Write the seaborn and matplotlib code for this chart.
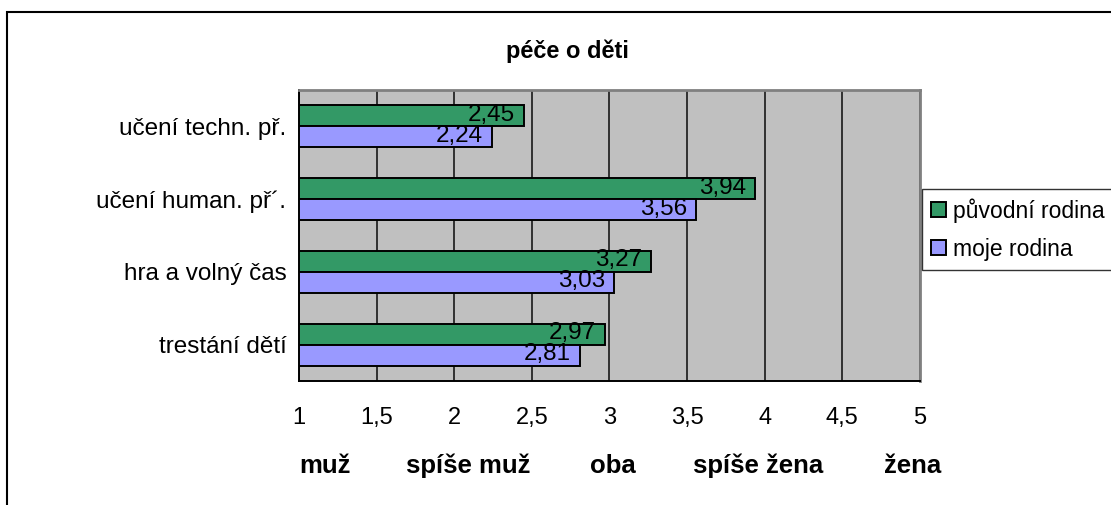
import matplotlib
matplotlib.use("Agg")
import matplotlib.pyplot as plt
import matplotlib.transforms as mtransforms
from matplotlib.patches import Rectangle
import pandas as pd
import seaborn as sns

# data
categories = ["učení techn. př.", "učení human. př´.", "hra a volný čas", "trestání dětí"]
series_names = ["původní rodina", "moje rodina"]
puvodni_rodina = [2.45, 3.94, 3.27, 2.97]
moje_rodina = [2.24, 3.56, 3.03, 2.81]
x_ticks = [1, 1.5, 2, 2.5, 3, 3.5, 4, 4.5, 5]
scale_labels = ["muž", "spíše muž", "oba", "spíše žena", "žena"]
scale_pos = [1.0, 2.09, 3.02, 3.96, 4.95]

df = pd.DataFrame({
    "kategorie": categories * 2,
    "hodnota": puvodni_rodina + moje_rodina,
    "rodina": [series_names[0]] * 4 + [series_names[1]] * 4,
})

sns.set_style("white")
plt.rcParams["font.family"] = ["Liberation Sans", "DejaVu Sans"]
plt.rcParams["text.color"] = "black"
plt.rcParams["xtick.color"] = "black"
plt.rcParams["ytick.color"] = "black"

W, H = 1111, 505
fig = plt.figure(figsize=(W / 100, H / 100), dpi=100)
ax = fig.add_axes([299 / W, 1 - 381 / H, 621 / W, 291 / H])
ax.set_facecolor("#C0C0C0")

sns.barplot(
    data=df, x="hodnota", y="kategorie", hue="rodina",
    order=categories, hue_order=series_names,
    palette=["#339966", "#9999FF"], width=0.58, errorbar=None,
    edgecolor="black", linewidth=1.4, saturation=1, ax=ax,
)

# data labels, comma decimals, just inside the bar end
for cont in ax.containers:
    for bar in cont:
        val = bar.get_width()
        ax.annotate(f"{val:.2f}".replace(".", ","),
                    (val, bar.get_y() + bar.get_height() / 2),
                    xytext=(-9, 1), textcoords="offset pixels",
                    ha="right", va="center", fontsize=17.5, color="black")

ax.set_xlim(1, 5)
ax.set_xticks(x_ticks)
ax.set_xticklabels([f"{t:g}".replace(".", ",") for t in x_ticks], fontsize=17)
ax.set_ylim(len(categories) - 0.5, -0.5)
ax.set_yticks([i - 0.5 for i in range(len(categories) + 1)])
ax.set_yticklabels([])
ax.set_yticks(range(len(categories)), minor=True)
ax.set_yticklabels(categories, minor=True, fontsize=17.5)
ax.tick_params(axis="y", which="major", direction="out", length=7, width=1.2, color="black")
ax.tick_params(axis="y", which="minor", length=0, pad=9)
ax.tick_params(axis="x", direction="out", length=7, width=1.2, color="black", pad=12)
ax.set_xlabel("")
ax.set_ylabel("")

ax.grid(axis="x", color="#262626", linewidth=1.3)
ax.set_axisbelow(True)
for side in ["left", "bottom"]:
    ax.spines[side].set_color("black")
    ax.spines[side].set_linewidth(1.4)
for side in ["top", "right"]:
    ax.spines[side].set_color("#808080")
    ax.spines[side].set_linewidth(2)
    ax.spines[side].set_visible(True)

handles, labels = ax.get_legend_handles_labels()
ax.get_legend().remove()
leg = fig.legend(handles, labels, loc="upper left",
                 bbox_to_anchor=(922 / W, 1 - 189 / H),
                 fontsize=16.5, frameon=True, fancybox=False,
                 edgecolor="black", handlelength=0.65, handleheight=0.65,
                 handletextpad=0.3, borderpad=0.4, labelspacing=0.65,
                 borderaxespad=0)
leg.get_frame().set_linewidth(1.0)

fig.text(567 / W, 1 - 51 / H, "péče o děti", ha="center", va="center",
         fontsize=17, fontweight="bold")

trans = mtransforms.blended_transform_factory(ax.transData, fig.transFigure)
for lbl, pos in zip(scale_labels, scale_pos):
    ha = "left" if pos == scale_pos[0] else "center"
    fig.text(pos, 1 - 466 / H, lbl, transform=trans, ha=ha, va="center",
             fontsize=18.5, fontweight="bold")

# outer chart frame, running off the right and bottom edges
fig.patches.append(Rectangle((7 / W, -0.2), 2, 1 - 12 / H + 0.2,
                             transform=fig.transFigure, fill=False,
                             edgecolor="black", linewidth=1.5))

fig.savefig("out.png", dpi=100)
plt.close(fig)
